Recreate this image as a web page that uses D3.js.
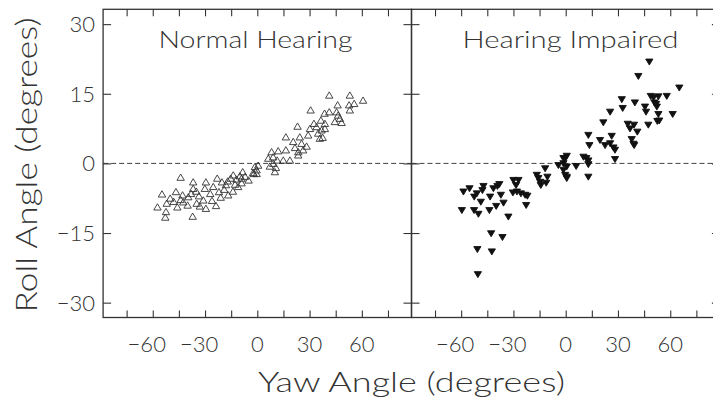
<!DOCTYPE html>
<html><head><meta charset="utf-8">
<script src="https://cdn.jsdelivr.net/npm/d3@7"></script>
<style>
body{margin:0;background:#fff}
svg{display:block}
text{font-family:Lato,"DejaVu Sans",sans-serif;font-weight:300;fill:#333}
</style>
</head><body>
<svg id="c" width="713" height="401"></svg>
<script>
const panelTitles = ["Normal Hearing", "Hearing Impaired"];
const xTicks = [-75, -60, -45, -30, -15, 0, 15, 30, 45, 60, 75];
const xTickLabels = [-60, -30, 0, 30, 60];
const yTicks = [-30, -15, 0, 15, 30];
const xTitle = "Yaw Angle (degrees)";
const yTitle = "Roll Angle (degrees)";

// Normal hearing (open up-triangles)
const nhYaw = [-44.0,-54.7,-57.3,-52.0,-52.4,-52.8,-46.7,-45.9,-42.9,-42.5,-39.6,-36.8,-36.8,-37.1,-34.8,-33.5,-29.5,-30.1,-29.5,-31.0,-25.3,-23.0,-23.7,-22.0,-20.3,-19.0,-16.7,-15.3,-13.8,-12.8,-11.0,-10.0,-8.4,-11.9,-1.4,-2.0,-0.4,
  -50,-48,-44,-40,-38,-35,-33,-27,-26,-21,-18,-17,-14,-9,-7,-5,
  41.3,53.1,60.7,55.6,52.7,53.1,46.1,41.3,38.6,45.5,46.4,47.4,48.4,44.5,30.6,36.5,38.8,32.5,23.1,30.2,34.0,36.9,38.8,34.9,35.9,37.5,29.2,16.4,20.6,24.4,21.6,25.4,28.3,23.5,26.3,23.5,8.2,12.0,16.4,6.3,9.1,11.4,14.9,18.7,9.1,10.7,10.1,7.2,-0.4,-2.4,0.5,-9.0];
const nhRoll = [-3.0,-6.6,-9.4,-8.6,-10.4,-11.6,-6.1,-9.4,-6.8,-8.3,-7.2,-4.0,-5.4,-11.4,-8.6,-7.0,-4.0,-5.4,-9.7,-7.9,-5.0,-3.2,-9.1,-6.1,-4.0,-5.6,-6.8,-3.2,-2.5,-4.5,-5.0,-2.7,-1.8,-3.4,-0.7,-2.2,-1.4,
  -7.5,-8.2,-7.8,-9.0,-6.5,-6.0,-9.2,-6.5,-8.0,-7.3,-4.6,-3.8,-6.0,-4.2,-2.8,-3.6,
  14.7,14.7,13.6,12.9,12.6,11.5,12.6,11.1,10.8,11.1,10.4,9.7,8.8,9.0,11.5,9.3,8.6,8.6,8.0,7.5,7.9,7.2,7.5,6.5,5.4,5.6,6.1,5.7,4.7,5.7,3.4,4.3,3.7,2.5,2.9,1.8,2.5,2.7,2.9,1.1,1.4,0.7,0.7,0.7,0.0,-0.9,-1.8,-0.6,-2.2,-2.0,-0.4,-3.2];

// Hearing impaired (filled down-triangles)
const hiYaw = [-58.7,-55.2,-52.5,-51.0,-47.2,-47.8,-48.7,-59.6,-52.6,-50.1,-43.8,-43.4,-41.5,-39.2,-38.1,-37.2,-39.9,-35.7,-32.9,-42.8,-36.3,-50.7,-42.4,-50.4,-30.0,-27.1,-28.5,-30.3,-28.0,-25.7,-23.3,-22.7,-22.0,-16.6,-15.7,-14.7,-14.3,-11.8,-10.5,-11.2,-4.2,-1.3,0.6,-1.3,-0.3,0.6,
  48.0,41.7,65.2,48.8,53.2,58.0,50.9,52.3,45.5,46.1,32.2,32.7,39.7,25.5,53.2,61.4,52.6,47.4,21.6,35.6,36.9,39.2,41.1,13.0,13.6,19.7,22.6,25.5,26.4,27.4,28.3,37.9,38.9,28.3,10.2,11.8,13.0,13.0,6.0,13.0,-0.3,-1.3,0.6,0.6,50.4,51.9,53.7,39.3];
const hiRoll = [-6.1,-5.4,-7.2,-6.5,-4.9,-5.8,-8.3,-10.1,-10.1,-10.9,-10.1,-7.2,-5.4,-4.9,-4.5,-6.8,-9.2,-8.5,-11.5,-15.1,-15.9,-18.5,-19.0,-23.9,-3.6,-3.6,-4.7,-6.3,-6.1,-6.5,-6.8,-9.0,-7.0,-2.5,-3.2,-4.0,-4.7,-1.1,-2.9,-4.2,-0.4,1.1,1.6,-1.4,-2.5,-3.2,
  21.9,18.8,16.3,14.5,14.4,14.5,13.1,12.2,12.2,11.1,13.8,11.9,13.1,11.1,10.6,10.6,9.1,8.3,8.8,8.5,7.5,8.3,6.8,6.1,3.9,5.0,3.9,4.3,5.9,3.4,2.9,5.2,4.2,0.9,1.4,1.1,0.6,-0.2,-0.6,-2.9,1.1,0.0,-0.7,-2.9,14.2,12.8,9.2,3.9];

const svg = d3.select("#c");
const ink = "#333";
const left0 = 103.1, panelW = 308.4, plotTop = 9.3, plotBottom = 317.5;
const y = d3.scaleLinear().domain([-33.2, 33.2]).range([plotBottom, plotTop]);

const series = [
  {yaw: nhYaw, roll: nhRoll, shape: "M0,-3.3L3.7,3L-3.7,3Z", fill: "none", stroke: ink},
  {yaw: hiYaw, roll: hiRoll, shape: "M0,3.3L3.6,-2.7L-3.6,-2.7Z", fill: "#111", stroke: "#111"}
];
const titleX = [255.5, 570.5];
const titleLen = [194, 216];
const fmt = d => d < 0 ? "\u2212" + Math.abs(d) : String(d);

panelTitles.forEach((name, i) => {
  const x0 = left0 + i * panelW;
  const x = d3.scaleLinear().domain([-88.5, 88.5]).range([x0, x0 + panelW]);
  const g = svg.append("g");

  g.append("line")
    .attr("x1", x0).attr("x2", x0 + panelW)
    .attr("y1", y(0)).attr("y2", y(0))
    .attr("stroke", "#444").attr("stroke-width", 1)
    .attr("stroke-dasharray", "5,3");

  const styleAxis = a => {
    a.select(".domain").remove();
    a.selectAll("line").attr("stroke", ink).attr("stroke-width", 1.1);
  };
  g.append("g").attr("transform", `translate(0,${plotBottom})`)
    .call(d3.axisBottom(x).tickValues(xTicks).tickSize(-7).tickFormat("")).call(styleAxis);
  g.append("g").attr("transform", `translate(0,${plotTop})`)
    .call(d3.axisTop(x).tickValues(xTicks).tickSize(-7).tickFormat("")).call(styleAxis);
  g.append("g").attr("transform", `translate(${x0},0)`)
    .call(d3.axisLeft(y).tickValues(yTicks).tickSize(-8).tickFormat("")).call(styleAxis);
  g.append("g").attr("transform", `translate(${x0 + panelW},0)`)
    .call(d3.axisRight(y).tickValues(yTicks).tickSize(-8).tickFormat("")).call(styleAxis);

  g.append("rect")
    .attr("x", x0).attr("y", plotTop).attr("width", panelW).attr("height", plotBottom - plotTop)
    .attr("fill", "none").attr("stroke", ink).attr("stroke-width", 1.3);

  const s = series[i];
  g.selectAll("path.pt").data(d3.range(s.yaw.length)).join("path")
    .attr("class", "pt")
    .attr("d", s.shape)
    .attr("transform", k => `translate(${x(s.yaw[k])},${y(s.roll[k])})`)
    .attr("fill", s.fill).attr("stroke", s.stroke).attr("stroke-width", 0.9);

  g.selectAll("text.xl").data(xTickLabels).join("text")
    .attr("class", "xl")
    .attr("x", d => x(d) + (d < 0 ? -6 : 0))
    .attr("y", 351.5)
    .attr("text-anchor", "middle")
    .attr("font-size", 22)
    .text(fmt);

  g.append("text")
    .attr("x", titleX[i]).attr("y", 48.3)
    .attr("text-anchor", "middle")
    .attr("font-size", 23)
    .attr("textLength", titleLen[i]).attr("lengthAdjust", "spacingAndGlyphs")
    .text(name);
});

svg.selectAll("text.yl").data(yTicks).join("text")
  .attr("class", "yl")
  .attr("x", 95).attr("y", d => y(d) + 8)
  .attr("text-anchor", "end")
  .attr("font-size", 22)
  .text(fmt);

svg.append("text")
  .attr("transform", "translate(37,165) rotate(-90)")
  .attr("text-anchor", "middle")
  .attr("font-size", 30)
  .attr("textLength", 295).attr("lengthAdjust", "spacingAndGlyphs")
  .text(yTitle);

svg.append("text")
  .attr("x", 411.5).attr("y", 392)
  .attr("text-anchor", "middle")
  .attr("font-size", 28)
  .attr("textLength", 307).attr("lengthAdjust", "spacingAndGlyphs")
  .text(xTitle);
</script>
</body></html>
